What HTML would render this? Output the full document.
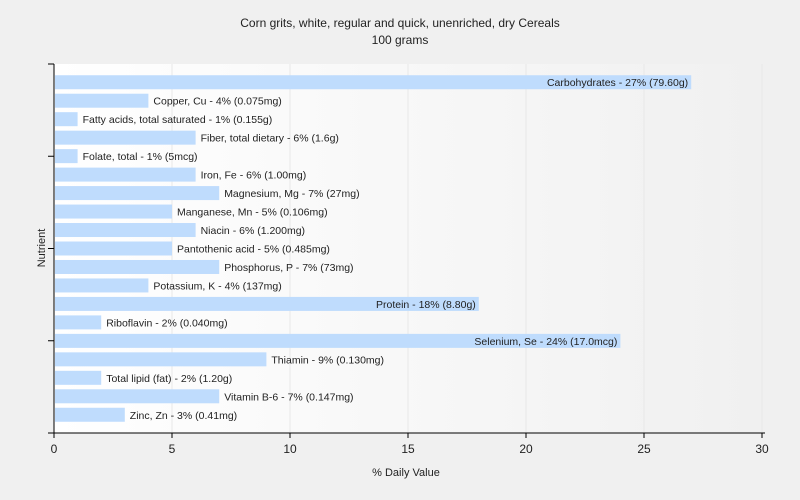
<!DOCTYPE html>
<html><head><meta charset="utf-8"><style>
body{margin:0;background:#f0f0f0;font-family:"Liberation Sans",sans-serif;overflow:hidden;}
svg{display:block;}
svg text{font-family:"Liberation Sans",sans-serif;}
</style></head><body>
<svg width="800" height="500">
<defs><linearGradient id="bg" x1="0" x2="1" y1="0" y2="0"><stop offset="0" stop-color="#ffffff"/><stop offset="1" stop-color="#f0f0f0"/></linearGradient></defs>
<rect width="800" height="500" fill="#f0f0f0"/>
<text x="400" y="27" text-anchor="middle" font-size="12" fill="#222">Corn grits, white, regular and quick, unenriched, dry Cereals</text>
<text x="400" y="44" text-anchor="middle" font-size="12" fill="#222">100 grams</text>
<rect x="54" y="64" width="710" height="369" fill="url(#bg)"/>
<g id="grid"></g><g id="bars"></g><g id="axes"></g>
<text x="406" y="476" text-anchor="middle" font-size="11" fill="#222">% Daily Value</text>
<text transform="translate(45,248) rotate(-90)" text-anchor="middle" font-size="11" fill="#222">Nutrient</text>
</svg>
<script>
const labels=["Carbohydrates - 27% (79.60g)","Copper, Cu - 4% (0.075mg)","Fatty acids, total saturated - 1% (0.155g)","Fiber, total dietary - 6% (1.6g)","Folate, total - 1% (5mcg)","Iron, Fe - 6% (1.00mg)","Magnesium, Mg - 7% (27mg)","Manganese, Mn - 5% (0.106mg)","Niacin - 6% (1.200mg)","Pantothenic acid - 5% (0.485mg)","Phosphorus, P - 7% (73mg)","Potassium, K - 4% (137mg)","Protein - 18% (8.80g)","Riboflavin - 2% (0.040mg)","Selenium, Se - 24% (17.0mcg)","Thiamin - 9% (0.130mg)","Total lipid (fat) - 2% (1.20g)","Vitamin B-6 - 7% (0.147mg)","Zinc, Zn - 3% (0.41mg)"];
const values=[27,4,1,6,1,6,7,5,6,5,7,4,18,2,24,9,2,7,3];
const xTicks=[0,5,10,15,20,25,30];
const NS="http://www.w3.org/2000/svg";
const x0=54,x1=762,xmax=30,yTop=64,yBot=433;
const xs=v=>x0+(v/xmax)*(x1-x0);
const bandTop=73,bandBot=424;
const step=(bandBot-bandTop)/values.length;
const yc=i=>bandTop+step*(i+0.5);
function mk(tag,attrs,parent){const e=document.createElementNS(NS,tag);for(const k in attrs)e.setAttribute(k,attrs[k]);document.getElementById(parent).appendChild(e);return e;}
xTicks.forEach((t,i)=>{
 if(t>0){const g=mk('line',{x1:xs(t),x2:xs(t),y1:yTop,y2:yBot,stroke:'#e8e8e8'},'grid');
 
 }
 const tk=mk('line',{x1:xs(t),x2:xs(t),y1:yBot,y2:yBot+5,stroke:'#000'},'axes');
 
 
 const tl=mk('text',{x:xs(t),y:yBot+20,'text-anchor':'middle','font-size':12,fill:'#222'},'axes');
 tl.textContent=t;
 
 
});
values.forEach((v,i)=>{
 const r=mk('rect',{x:x0+1,y:yc(i)-7,width:xs(v)-x0-1,height:14,fill:'#bfdcfd'},'bars');
 
 
 const big=v>=15;
 const t=mk('text',{x:big?xs(v)-3:xs(v)+5,y:yc(i)+4,'text-anchor':big?'end':'start','font-size':10.5,fill:'#222'},'bars');
 t.textContent=labels[i];
 
 
});
[0,1,2,3,4].forEach(k=>{const y=yTop+k*(yBot-yTop)/4;
 const tk=mk('line',{x1:x0-6,x2:x0,y1:y,y2:y,stroke:'#000'},'axes');
 
 });
const ya=mk('line',{x1:x0,x2:x0,y1:yTop,y2:yBot,stroke:'#000'},'axes');


const xa=mk('line',{x1:x0-6,x2:765,y1:yBot,y2:yBot,stroke:'#000'},'axes');


</script>
</body></html>
